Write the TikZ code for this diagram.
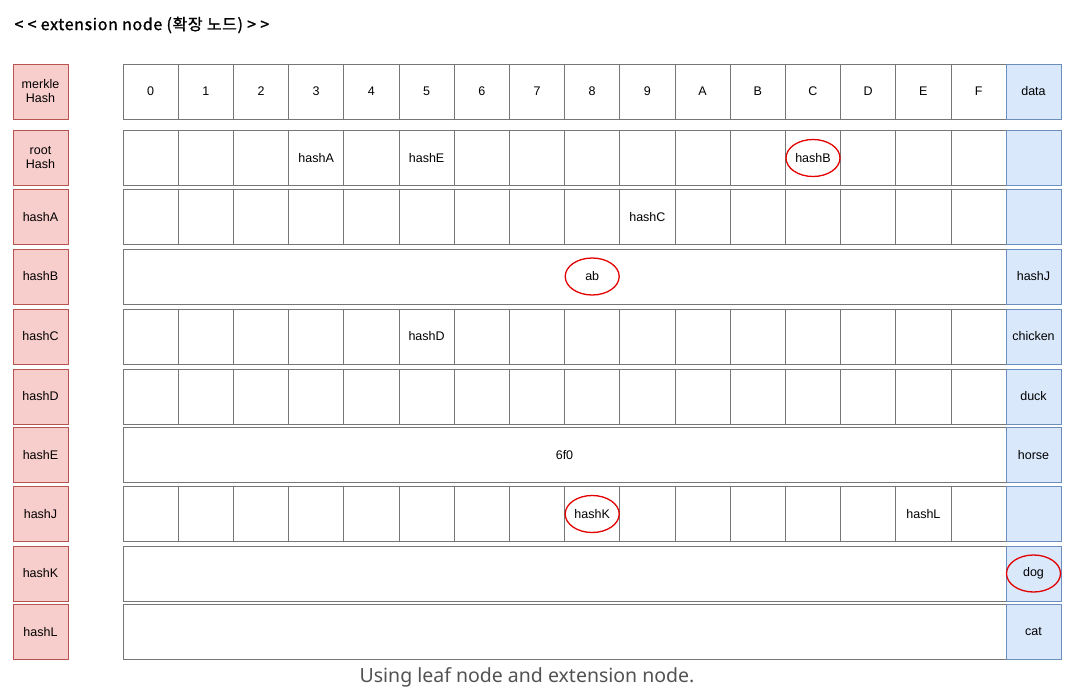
\documentclass[tikz,border=0pt]{standalone}
\usepackage{fontspec}
\setmainfont{Liberation Sans}
\newfontfamily\krfont[LetterSpace=4, FakeBold=1.2]{Noto Sans CJK KR}
\newfontfamily\capfont{Noto Sans}
\usetikzlibrary{positioning, shapes.geometric}
\definecolor{keyred}{RGB}{248,206,204}
\definecolor{keyredline}{RGB}{184,84,80}
\definecolor{datablue}{RGB}{218,232,252}
\definecolor{databorder}{RGB}{108,142,191}
\definecolor{cellgray}{RGB}{118,118,118}
\definecolor{ringred}{RGB}{226,0,0}

\begin{document}
\begin{tikzpicture}[x=1pt, y=-1pt, font=\fontsize{12.5}{14}\selectfont,
key/.style={rectangle, draw=keyredline, fill=keyred, line width=0.9pt,
minimum width=55pt, minimum height=55pt, inner sep=0pt, align=center},
cell/.style={rectangle, draw=cellgray, line width=0.9pt,
minimum width=55.2pt, minimum height=55pt, inner sep=0pt},
wide/.style={rectangle, draw=cellgray, line width=0.9pt,
minimum width=883pt, minimum height=55pt, inner sep=0pt},
datacell/.style={rectangle, draw=databorder, fill=datablue, line width=0.9pt,
minimum width=55pt, minimum height=55pt, inner sep=0pt},
ring/.style={ellipse, draw=ringred, line width=1.3pt,
minimum width=54pt, minimum height=37pt, inner sep=0pt}
]
\useasboundingbox (0,0) rectangle (1080,696);

% Title
\node[anchor=west, font=\krfont\fontsize{16}{18}\selectfont] (title) at (11,25)
{< <\ extension node (확장 노드) > >};

% Key column
\node[key] (key-merkle) at (40.5,91.5) {merkle\\Hash};
\node[key] (key-root) at (40.5,158) {root\\Hash};
\node[key] (key-hashA) at (40.5,217) {hashA};
\node[key] (key-hashB) at (40.5,276.5) {hashB};
\node[key] (key-hashC) at (40.5,336.5) {hashC};
\node[key] (key-hashD) at (40.5,396.5) {hashD};
\node[key] (key-hashE) at (40.5,455) {hashE};
\node[key] (key-hashJ) at (40.5,514) {hashJ};
\node[key] (key-hashK) at (40.5,573.5) {hashK};
\node[key] (key-hashL) at (40.5,632) {hashL};

% Header row
\foreach \d [count=\i from 0] in {0,1,2,3,4,5,6,7,8,9,A,B,C,D,E,F}
\node[cell] (head-\i) at ({150.6+55.2*\i},91.5) {\d};
\node[datacell] (head-data) at (1033.5,91.5) {data};

% Branch rows
\foreach \r in {root,hashA,hashC,hashD,hashJ} {
\foreach \i in {0,...,15}
\node[cell] (\r-\i) at (head-\i |- key-\r) {};
\node[datacell] (\r-data) at (head-data |- key-\r) {};
}

% Extension and leaf rows
\foreach \r in {hashB,hashE,hashK,hashL} {
\node[wide] (\r-path) at (564.5,0 |- key-\r) {};
\node[datacell] (\r-data) at (head-data |- key-\r) {};
}

% Entries
\node (root-hashA) at (root-3) {hashA};
\node (root-hashE) at (root-5) {hashE};
\node[ring] (root-hashB) at (root-12) {hashB};
\node (hashA-hashC) at (hashA-9) {hashC};
\node[ring] (hashB-ab) at (head-8 |- key-hashB) {ab};
\node (hashB-val) at (hashB-data) {hashJ};
\node (hashC-hashD) at (hashC-5) {hashD};
\node (hashC-val) at (hashC-data) {chicken};
\node (hashD-val) at (hashD-data) {duck};
\node (hashE-6f0) at (hashE-path) {6f0};
\node (hashE-val) at (hashE-data) {horse};
\node[ring] (hashJ-hashK) at (hashJ-8) {hashK};
\node (hashJ-hashL) at (hashJ-14) {hashL};
\node[ring] (hashK-val) at (hashK-data) {dog};
\node (hashL-val) at (hashL-data) {cat};

% Caption
\node[font=\capfont\fontsize{19.5}{22}\selectfont, text=black!68] (caption) at (527,677)
{Using leaf node and extension node.};

\end{tikzpicture}
\end{document}
